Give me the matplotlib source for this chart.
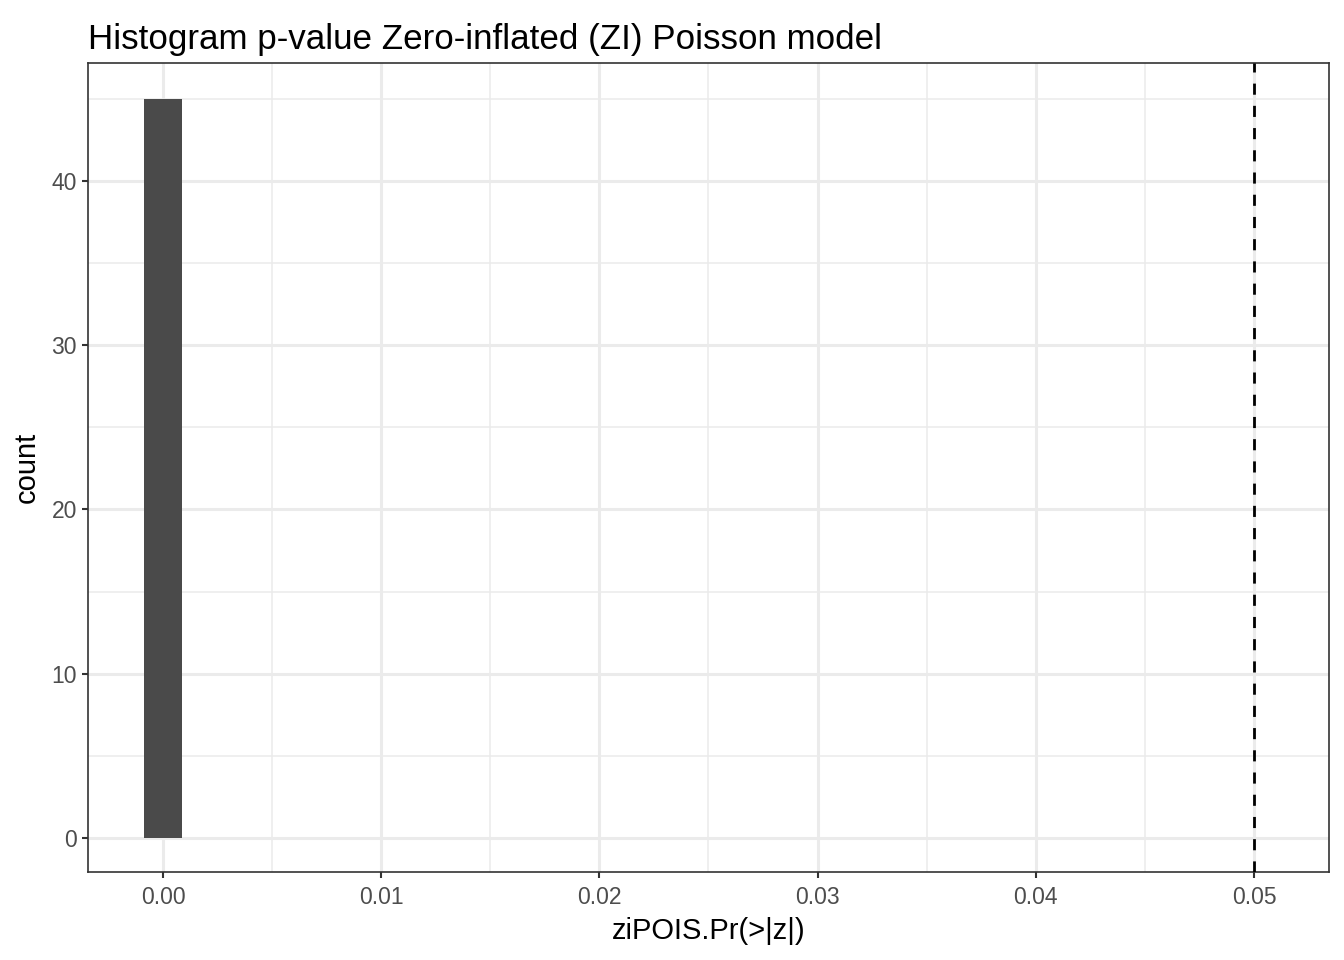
import matplotlib
matplotlib.use("Agg")
import matplotlib.pyplot as plt
import numpy as np

# histogram bins
bin_centers = [0.0]
bin_counts = [45]
bin_width = 0.0017
cutoff = 0.05

x_ticks = [0.00, 0.01, 0.02, 0.03, 0.04, 0.05]
x_ticklabels = ["0.00", "0.01", "0.02", "0.03", "0.04", "0.05"]
y_ticks = [0, 10, 20, 30, 40]

plt.rcParams['font.family'] = ['Liberation Sans', 'DejaVu Sans']

fig = plt.figure(figsize=(13.44, 9.6), dpi=100)
ax = fig.add_axes([88 / 1344, 1 - 872 / 960, (1329 - 88) / 1344, (872 - 63) / 960])

# grid (theme_bw style)
for x in np.arange(-0.005, 0.06, 0.005):
    major = np.isclose(x * 100, round(x * 100))
    ax.axvline(x, color='#ebebeb', lw=2.2 if major else 1.1, zorder=0)
for y in np.arange(-5, 50, 5):
    major = y % 10 == 0
    ax.axhline(y, color='#ebebeb', lw=2.2 if major else 1.1, zorder=0)

ax.bar(bin_centers, bin_counts, width=bin_width, color='#4a4a4a', zorder=2)
ax.axvline(cutoff, color='black', lw=2, ls=(0, (4, 4)), zorder=3)

ax.set_xlim(-0.003437, 0.05344)
ax.set_ylim(-2.07, 47.18)
ax.set_xticks(x_ticks)
ax.set_xticklabels(x_ticklabels)
ax.set_yticks(y_ticks)
ax.tick_params(axis='both', labelsize=16.5, labelcolor='#4d4d4d', color='#333333',
               length=4, width=1.5)
ax.tick_params(axis='x', pad=6)
ax.tick_params(axis='y', pad=4)
for s in ax.spines.values():
    s.set_color('#333333')
    s.set_linewidth(1.2)

ax.set_xlabel("ziPOIS.Pr(>|z|)", fontsize=21, labelpad=6)
ax.set_ylabel("count", fontsize=21, labelpad=8)
ax.set_title("Histogram p-value Zero-inflated (ZI) Poisson model", fontsize=25.2,
             loc='left', pad=10)

fig.savefig("out.png", dpi=100)
